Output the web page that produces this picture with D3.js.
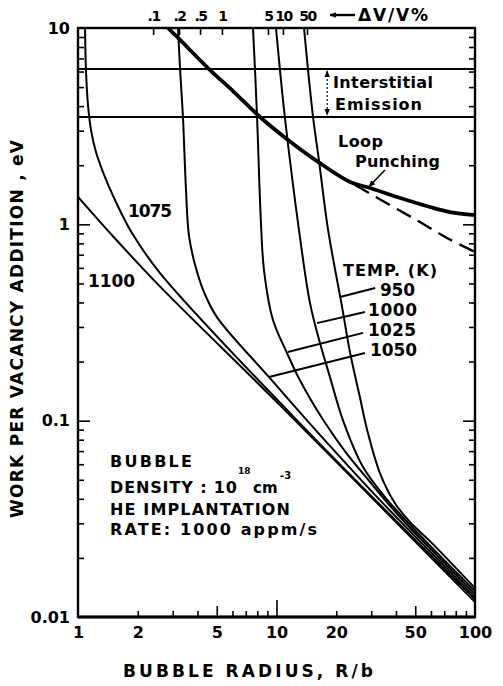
<!DOCTYPE html>
<html>
<head>
<meta charset="utf-8">
<script src="https://cdnjs.cloudflare.com/ajax/libs/d3/7.8.5/d3.min.js"></script>
<style>
body { margin: 0; background: #fff; }
svg text { font-family: "DejaVu Sans", sans-serif; font-weight: bold; fill: #000; }
.axis line { stroke: #000; stroke-width: 1.6; }
.axis text { font-size: 16px; font-family: "DejaVu Sans", sans-serif; font-weight: bold; }
</style>
</head>
<body>
<svg id="chart" width="503" height="686"></svg>
<script>
/** - - - - - - DATA
*/
var xTickValues = [1, 2, 5, 10, 20, 50, 100];
var yTickValues = [10, 1, 0.1, 0.01];
var yTickLabels = ["10", "1", "0.1", "0.01"];

// top axis: radius where each dV/V % tick sits
var dvRadius = [2.39, 3.23, 4.12, 5.31, 9.06, 10.78, 14.25];
var dvLabels = [".1", ".2", ".5", "1", "5", "10", "50"];

// interstitial emission band (eV)
var emissionLevels = [6.18, 3.52];

var temps = ["1100", "1075", "1050", "1025", "1000", "950"];

// [R/b, eV]
var curve1100 = [[1, 1.38], [1.5, 0.87], [2.6, 0.48], [10.4, 0.12], [100, 0.0119]];
var curve1075 = [[1.085, 10], [1.097, 6.11], [1.123, 4.05], [1.163, 3.02], [1.232, 2.335], [1.336, 1.847],
                 [1.536, 1.33], [1.87, 0.903], [2.59, 0.565], [12.1, 0.1055], [100, 0.0123]];
var curve1050 = [[3.19, 10], [3.27, 6.11], [3.38, 3.48], [3.50, 1.495], [3.62, 0.882], [3.89, 0.620],
                 [4.31, 0.452], [5.01, 0.337], [9.17, 0.1667], [14.2, 0.1007], [33.2, 0.0394], [100, 0.01263]];
var curve1025 = [[7.61, 10], [7.79, 6.18], [7.98, 3.52], [8.36, 0.992], [8.65, 0.585], [9.60, 0.3254],
                 [11.3, 0.221], [13.1, 0.161], [17.2, 0.1007], [22.1, 0.070], [29.6, 0.0487], [41.9, 0.0323], [100, 0.01308]];
var curve1000 = [[9.94, 10], [10.4, 6.18], [11.03, 3.48], [12.98, 0.935], [14.75, 0.397], [16.56, 0.2485],
                 [18.6, 0.1667], [21.6, 0.1007], [27.3, 0.058], [35.2, 0.0408], [52.8, 0.0261], [100, 0.01355]];
var curve950 = [[13.76, 10], [14.4, 6.18], [15.3, 3.48], [16.4, 2.08], [18.2, 0.935], [21.4, 0.379],
                [23.5, 0.221], [26.3, 0.1319], [28.6, 0.09], [33.2, 0.0541], [39.5, 0.038], [47.1, 0.0304],
                [59.3, 0.02435], [100, 0.01403]];

var loopPunching = [[2.84, 10], [3.27, 8.69], [4.57, 6.18], [6.11, 4.72], [8.26, 3.52], [11.43, 2.69],
                    [16.2, 2.08], [23.5, 1.643], [29.6, 1.531], [40.5, 1.377], [59.3, 1.225], [74.8, 1.155], [100, 1.115]];
var loopDashed = [[24.9, 1.586], [37.3, 1.254], [52.8, 1.027], [72.3, 0.852], [100, 0.723]];

// leader lines from each temperature label to its curve: [from curve, to label]
var leader950 = [[20.9, 0.426], [31.4, 0.4735]];
var leader1000 = [[16.0, 0.314], [27.9, 0.3573]];
var leader1025 = [[11.4, 0.2236], [27.3, 0.280]];
var leader1050 = [[9.17, 0.1667], [27.9, 0.221]];
var leaderLoop = [[35.2, 1.89], [29.2, 1.554]];
var emissionArrowR = 18;


/** - - - - - - CHART
*/
var margin = {top: 28, right: 28, bottom: 69, left: 78},
    width = 503 - margin.left - margin.right,
    height = 686 - margin.top - margin.bottom;

var x = d3.scaleLog().domain([1, 100]).range([0, width]);
var y = d3.scaleLog().domain([0.01, 10]).range([height, 0]);

var svg = d3.select("#chart");
var defs = svg.append("defs");
defs.append("marker")
  .attr("id", "head")
  .attr("viewBox", "0 0 10 10")
  .attr("refX", 9).attr("refY", 5)
  .attr("markerUnits", "userSpaceOnUse")
  .attr("markerWidth", 7).attr("markerHeight", 7)
  .attr("orient", "auto-start-reverse")
  .append("path").attr("d", "M0,1L10,5L0,9z").attr("fill", "#000");

var g = svg.append("g")
  .attr("transform", "translate(" + margin.left + "," + margin.top + ")");

// minor tick values of the log axes
var minorX = [], minorY = [];
[1, 10].forEach(function(d) { for (var k = 2; k <= 9; k++) minorX.push(d * k); });
[0.01, 0.1, 1].forEach(function(d) { for (var k = 2; k <= 9; k++) minorY.push(d * k); });

function noDomain(sel) { sel.select(".domain").remove(); }

// bottom ticks (inside)
g.append("g").attr("class", "axis").attr("transform", "translate(0," + height + ")")
  .call(d3.axisBottom(x).tickValues(minorX.filter(function(v) { return v != 5 && v != 50; })).tickSize(-6).tickFormat(""))
  .call(noDomain);
g.append("g").attr("class", "axis").attr("transform", "translate(0," + height + ")")
  .call(d3.axisBottom(x).tickValues([5, 50]).tickSize(-11).tickFormat(""))
  .call(noDomain);
g.append("g").attr("class", "axis").attr("transform", "translate(0," + height + ")")
  .call(d3.axisBottom(x).tickValues([10]).tickSize(-17).tickFormat(""))
  .call(noDomain);
g.append("g").attr("class", "axis").attr("transform", "translate(0," + height + ")")
  .call(d3.axisBottom(x).tickValues(xTickValues).tickSize(0).tickPadding(10).tickFormat(d3.format("d")))
  .call(noDomain);

// left ticks
g.append("g").attr("class", "axis")
  .call(d3.axisLeft(y).tickValues(minorY).tickSize(-6).tickFormat(""))
  .call(noDomain);
g.append("g").attr("class", "axis")
  .call(d3.axisLeft(y).tickValues([1, 0.1]).tickSize(-12).tickFormat(""))
  .call(noDomain);
g.append("g").attr("class", "axis")
  .call(d3.axisLeft(y).tickValues(yTickValues).tickSize(0).tickPadding(8)
    .tickFormat(function(d, i) { return yTickLabels[i]; }))
  .call(noDomain);

// right ticks
g.append("g").attr("class", "axis").attr("transform", "translate(" + width + ",0)")
  .call(d3.axisRight(y).tickValues(minorY).tickSize(-6).tickFormat(""))
  .call(noDomain);
g.append("g").attr("class", "axis").attr("transform", "translate(" + width + ",0)")
  .call(d3.axisRight(y).tickValues([1, 0.1]).tickSize(-12).tickFormat(""))
  .call(noDomain);

// top dV/V axis
var topAxis = g.append("g").attr("class", "axis")
  .call(d3.axisTop(x).tickValues(dvRadius).tickSize(-7).tickPadding(7)
    .tickFormat(function(d, i) { return dvLabels[i]; }))
  .call(noDomain);
topAxis.selectAll("text").style("font-size", "14px")
  .style("letter-spacing", "-1.5px");

// frame
g.append("rect")
  .attr("width", width).attr("height", height)
  .attr("fill", "none").attr("stroke", "#000").attr("stroke-width", 2.4);
g.append("line")
  .attr("x1", 0).attr("x2", width).attr("y1", height).attr("y2", height)
  .attr("stroke", "#000").attr("stroke-width", 3);

// interstitial emission band
g.selectAll(".level")
  .data(emissionLevels)
  .enter().append("line")
  .attr("class", "level")
  .attr("x1", 0).attr("x2", width)
  .attr("y1", function(d) { return y(d); })
  .attr("y2", function(d) { return y(d); })
  .attr("stroke", "#000").attr("stroke-width", 2);

var line = d3.line()
  .x(function(d) { return x(d[0]); })
  .y(function(d) { return y(d[1]); })
  .curve(d3.curveCatmullRom.alpha(0.5));

var straight = d3.line()
  .x(function(d) { return x(d[0]); })
  .y(function(d) { return y(d[1]); });

// temperature curves
var curves = [curve1100, curve1075, curve1050, curve1025, curve1000, curve950];
g.selectAll(".temp")
  .data(curves)
  .enter().append("path")
  .attr("class", "temp")
  .attr("d", line)
  .attr("fill", "none").attr("stroke", "#000").attr("stroke-width", 2);

// loop punching
g.append("path").datum(loopPunching)
  .attr("d", line)
  .attr("fill", "none").attr("stroke", "#000").attr("stroke-width", 3.8);
g.append("path").datum(loopDashed)
  .attr("d", line)
  .attr("fill", "none").attr("stroke", "#000").attr("stroke-width", 2.4)
  .attr("stroke-dasharray", "16,8");

// leaders
[leader950, leader1000, leader1025, leader1050].forEach(function(l) {
  g.append("path").datum(l).attr("d", straight)
    .attr("fill", "none").attr("stroke", "#000").attr("stroke-width", 2);
});
g.append("path").datum(leaderLoop).attr("d", straight)
  .attr("fill", "none").attr("stroke", "#000").attr("stroke-width", 1.5)
  .attr("marker-end", "url(#head)");

// interstitial emission arrow
g.append("line")
  .attr("x1", x(emissionArrowR)).attr("x2", x(emissionArrowR))
  .attr("y1", y(emissionLevels[0]) + 2).attr("y2", y(emissionLevels[1]) - 2)
  .attr("stroke", "#000").attr("stroke-width", 1.2)
  .attr("stroke-dasharray", "2,2")
  .attr("marker-start", "url(#head)").attr("marker-end", "url(#head)");

/** - - - - - - TEXTS
*/
function label(txt, px, py, size, len, weight) {
  var t = svg.append("text").attr("x", px).attr("y", py)
    .style("font-size", size + "px").text(txt);
  if (len) t.attr("textLength", len);
  if (weight) t.style("font-weight", weight);
  return t;
}

// top axis legend
label("\u0394V/V%", 358, 21, 17, 70);
svg.append("line")
  .attr("x1", 355).attr("x2", 330).attr("y1", 15).attr("y2", 15)
  .attr("stroke", "#000").attr("stroke-width", 2.4)
  .attr("marker-end", "url(#head)");

label("Interstitial", 333, 88, 16, 100);
label("Emission", 335, 110, 16, 87);
label("Loop", 338, 147, 16, 45);
label("Punching", 355, 167, 16, 85);

label("TEMP. (K)", 343, 276, 16, 94);
label(temps[5], 380, 296, 17, 35);
label(temps[4], 368, 316, 17, 49);
label(temps[3], 368, 336, 17, 48);
label(temps[2], 370, 356, 17, 47);
label(temps[1], 128, 217, 17, 44);
label(temps[0], 88, 287, 17, 47);

label("BUBBLE", 110, 467, 16, 82);
label("DENSITY : 10", 110, 493, 16, 127);
label("18", 238, 474, 9);
label("cm", 253, 493, 15);
label("-3", 280, 479, 10);
label("HE IMPLANTATION", 110, 515, 16, 180);
label("RATE:  1000 appm/s", 110, 535, 16, 207);

// axis titles
svg.append("text")
  .attr("x", 248).attr("y", 677)
  .attr("text-anchor", "middle")
  .attr("textLength", 250)
  .style("font-size", "17px")
  .text("BUBBLE  RADIUS,  R/b");

svg.append("text")
  .attr("transform", "translate(23,329) rotate(-90)")
  .attr("text-anchor", "middle")
  .attr("textLength", 378)
  .style("font-size", "17px")
  .text("WORK  PER  VACANCY  ADDITION ,  eV");
</script>
</body>
</html>
